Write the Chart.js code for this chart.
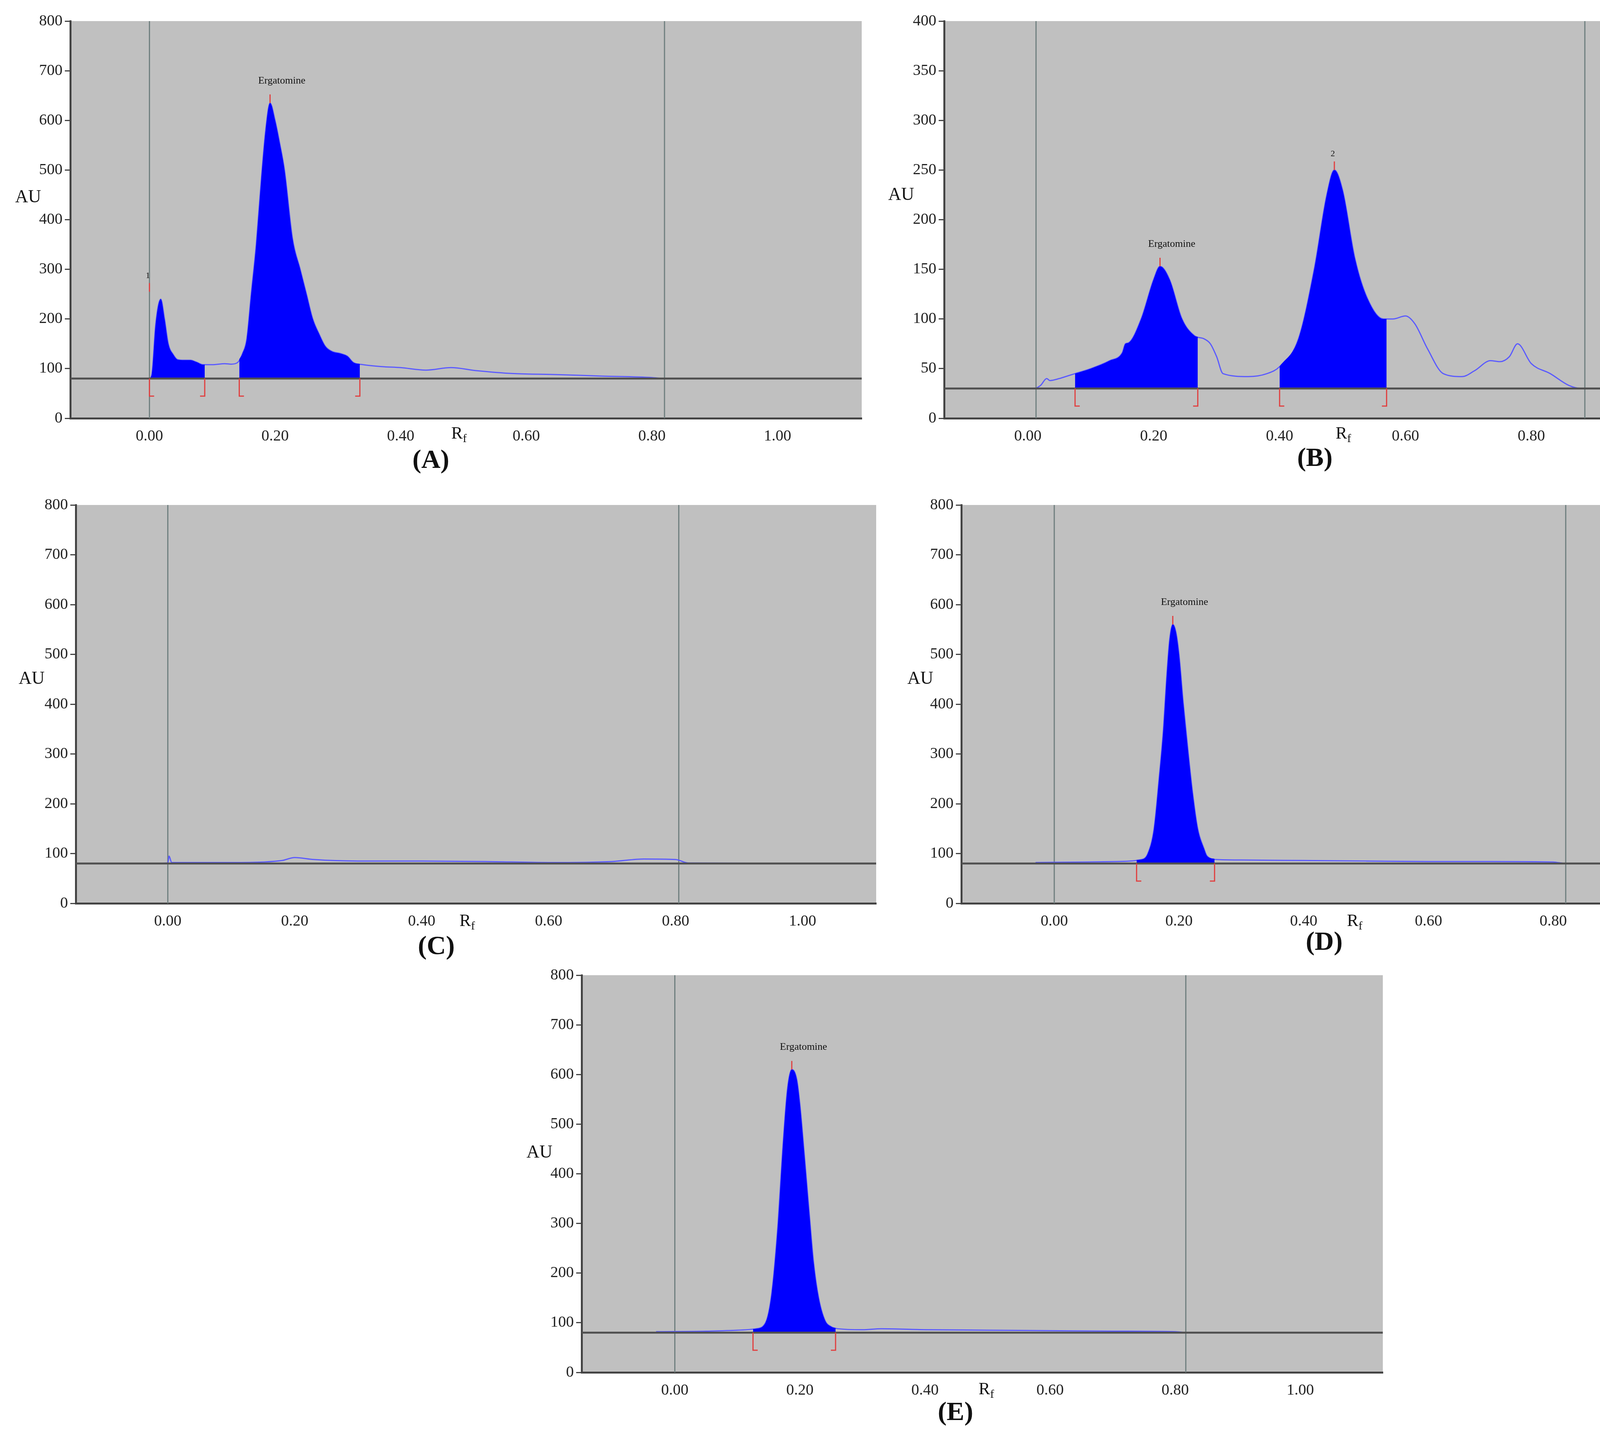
<!DOCTYPE html>
<html><head><meta charset="utf-8">
<script src="https://cdn.jsdelivr.net/npm/chart.js@4.4.0/dist/chart.umd.min.js"></script>
<style>
body{margin:0;background:#fff;width:4550px;height:3682px;position:relative;overflow:hidden;font-family:"Liberation Serif",serif;}
.box{position:absolute;}
.lbl{position:absolute;font-family:"Liberation Serif",serif;color:#111;white-space:nowrap;transform:translate(-50%,-50%);}
.au{font-size:46px;}
.rf{font-size:44px;}
.rf sub{font-size:30px;}
.ttl{font-size:68px;font-weight:bold;}
</style></head><body>
<script>
// ---- Data (Rf, AU) ----
const rfA = [-0.03,0.0,0.004,0.01,0.018,0.024,0.03,0.038,0.045,0.055,0.065,0.075,0.085,0.1,0.12,0.13,0.14,0.148,0.155,0.162,0.17,0.178,0.185,0.192,0.2,0.208,0.215,0.228,0.24,0.25,0.26,0.27,0.28,0.29,0.305,0.315,0.325,0.34,0.37,0.4,0.44,0.48,0.52,0.58,0.65,0.72,0.8,0.82,1.02];
const auA = [80,80,90,190,240,200,150,128,118,117,117,113,108,108,110,109,112,130,160,250,350,480,580,635,600,550,500,360,300,250,200,170,145,135,130,125,112,108,104,102,97,102,96,90,88,85,82,80,80];
const peaksA = [[0.0,0.088],[0.143,0.335]];
const labelsA = [{x:0.192,y:635,t:"Ergatomine"},{x:0.0,y:255,t:"1"}];
const baseA = 80;

const rfB = [-0.03,0.01,0.02,0.03,0.035,0.05,0.06,0.075,0.1,0.13,0.15,0.155,0.16,0.18,0.2,0.21,0.225,0.245,0.265,0.28,0.29,0.3,0.31,0.35,0.38,0.4,0.43,0.455,0.475,0.487,0.5,0.52,0.54,0.565,0.58,0.6,0.615,0.635,0.66,0.69,0.71,0.735,0.75,0.765,0.778,0.8,0.83,0.86,0.88,1.02];
const auB = [30,30,33,40,38,40,42,45,50,58,66,75,76,100,140,153,140,100,83,80,75,62,45,42,45,52,80,150,225,250,230,160,120,100,100,103,95,70,45,42,48,58,57,62,75,55,45,33,30,30];
const peaksB = [[0.075,0.27],[0.4,0.57]];
const labelsB = [{x:0.21,y:153,t:"Ergatomine"},{x:0.487,y:250,t:"2"}];
const baseB = 30;

const rfC = [-0.03,0.0,0.002,0.006,0.02,0.05,0.1,0.15,0.18,0.2,0.23,0.3,0.4,0.5,0.6,0.7,0.75,0.8,0.82,1.02];
const auC = [80,81,95,82,82,82,82,83,86,92,88,85,85,84,82,84,89,88,81,80];
const baseC = 80;

const rfD = [-0.03,0.05,0.1,0.14,0.15,0.16,0.168,0.175,0.18,0.185,0.19,0.195,0.2,0.207,0.215,0.222,0.23,0.24,0.245,0.26,0.3,0.4,0.5,0.6,0.7,0.8,0.82,1.02];
const auD = [82,83,84,88,100,150,250,350,450,530,560,545,500,400,300,220,150,110,95,88,87,86,85,84,84,83,80,80];
const peaksD = [[0.132,0.257]];
const labelsD = [{x:0.19,y:560,t:"Ergatomine"}];
const baseD = 80;

const rfE = [-0.03,0.05,0.1,0.13,0.145,0.155,0.165,0.172,0.18,0.187,0.195,0.2,0.207,0.215,0.222,0.23,0.24,0.25,0.26,0.3,0.33,0.4,0.5,0.6,0.7,0.8,0.82,1.02];
const auE = [82,83,85,88,100,160,300,440,570,610,590,540,440,320,220,150,105,92,88,86,88,86,85,84,83,82,80,80];
const peaksE = [[0.125,0.257]];
const labelsE = [{x:0.187,y:610,t:"Ergatomine"}];
const baseE = 80;

const xTicks = [0,0.2,0.4,0.6,0.8,1.0];

const panels = [
 {rf:rfA,au:auA,peaks:peaksA,labels:labelsA,base:baseA,ymax:800,ystep:100,xmin:-0.126,xmax:1.134,vl:[0,0.82],box:[50,24,2166,1137],
  au_:[72,502],rfl:[1175,1111],ttl:[1103,1175,"(A)"]},
 {rf:rfB,au:auB,peaks:peaksB,labels:labelsB,base:baseB,ymax:400,ystep:50,xmin:-0.133,xmax:1.135,vl:[0.013,0.885],box:[2287,24,2183,1137],
  au_:[2307,496],rfl:[3439,1111],ttl:[3366,1170,"(B)"]},
 {rf:rfC,au:auC,peaks:[],labels:[],base:baseC,ymax:800,ystep:100,xmin:-0.145,xmax:1.116,vl:[0,0.805],box:[64,1263,2189,1140],
  au_:[81,1735],rfl:[1196,2359],ttl:[1117,2420,"(C)"]},
 {rf:rfD,au:auD,peaks:peaksD,labels:labelsD,base:baseD,ymax:800,ystep:100,xmin:-0.149,xmax:1.138,vl:[0,0.82],box:[2331,1263,2195,1140],
  au_:[2356,1735],rfl:[3468,2359],ttl:[3390,2409,"(D)"],smallOne:true},
 {rf:rfE,au:auE,peaks:peaksE,labels:labelsE,base:baseE,ymax:800,ystep:100,xmin:-0.149,xmax:1.132,vl:[0,0.817],box:[1359,2467,2191,1137],
  au_:[1381,2948],rfl:[2525,3558],ttl:[2446,3613,"(E)"]}
];

function interp(rf,au,x){
  for(let i=0;i<rf.length-1;i++){ if(x>=rf[i]&&x<=rf[i+1]){const t=(x-rf[i])/(rf[i+1]-rf[i]);return au[i]+t*(au[i+1]-au[i]);} }
  return au[au.length-1];
}

const overlay = {
  id:'overlay',
  beforeDatasetsDraw(chart){
    const p=chart.options.plugins.overlay, xs=chart.scales.x, a=chart.chartArea, ctx=chart.ctx;
    ctx.save();
    ctx.strokeStyle='#6f7f7f'; ctx.lineWidth=3;
    p.vl.forEach(v=>{const px=xs.getPixelForValue(v);ctx.beginPath();ctx.moveTo(px,a.top);ctx.lineTo(px,a.bottom);ctx.stroke();});
    ctx.restore();
  },
  afterDatasetsDraw(chart){
    const p=chart.options.plugins.overlay, xs=chart.scales.x, ys=chart.scales.y, a=chart.chartArea, ctx=chart.ctx;
    ctx.save();
    const by=ys.getPixelForValue(p.base);
    ctx.strokeStyle='#505050'; ctx.lineWidth=5;
    ctx.beginPath();ctx.moveTo(a.left,by);ctx.lineTo(a.right,by);ctx.stroke();
    ctx.strokeStyle='#e04040'; ctx.lineWidth=3;
    p.peaks.forEach(pk=>{
      pk.forEach((v,i)=>{const px=xs.getPixelForValue(v);
        ctx.beginPath();ctx.moveTo(px,by);ctx.lineTo(px,by+45);ctx.lineTo(px+(i===0?12:-12),by+45);ctx.stroke();});
    });
    p.labels.forEach(l=>{
      const px=xs.getPixelForValue(l.x), py=ys.getPixelForValue(l.y);
      ctx.strokeStyle='#e04040';ctx.beginPath();ctx.moveTo(px,py);ctx.lineTo(px,py-22);ctx.stroke();
      ctx.fillStyle='#111';ctx.font=(l.t.length>2?'26px':'22px')+' "Liberation Serif", serif';
      ctx.textAlign='center';ctx.textBaseline='bottom';
      ctx.fillText(l.t, l.t.length>2?px+30:px-4, py-(l.t.length>2?44:30));
    });
    ctx.restore();
  }
};

panels.forEach((P,idx)=>{
  const d=document.createElement('div');d.className='box';
  d.style.left=P.box[0]+'px';d.style.top=P.box[1]+'px';d.style.width=P.box[2]+'px';d.style.height=P.box[3]+'px';
  const c=document.createElement('canvas');d.appendChild(c);document.body.appendChild(d);
  [['au',P.au_,'AU'],['rf',P.rfl,'R<sub>f</sub>'],['ttl',P.ttl,P.ttl[2]]].forEach(([cls,pos,txt])=>{
    const s=document.createElement('div');s.className='lbl '+cls;s.style.left=pos[0]+'px';s.style.top=pos[1]+'px';s.innerHTML=txt;document.body.appendChild(s);
  });
  const line=P.rf.map((x,i)=>({x:x,y:P.au[i]}));
  const ds=[];
  P.peaks.forEach(pk=>{
    const pts=[{x:pk[0],y:interp(P.rf,P.au,pk[0])}];
    P.rf.forEach((x,i)=>{if(x>pk[0]&&x<pk[1])pts.push({x:x,y:P.au[i]});});
    pts.push({x:pk[1],y:interp(P.rf,P.au,pk[1])});
    ds.push({data:pts,borderWidth:0,pointRadius:0,backgroundColor:'#0000ff',fill:{value:P.base},cubicInterpolationMode:'monotone'});
  });
  ds.push({data:line,borderColor:'#5a5aff',borderWidth:3,pointRadius:0,fill:false,cubicInterpolationMode:'monotone'});
  new Chart(c,{
    type:'line',
    data:{datasets:ds},
    plugins:[overlay,{id:'bg',beforeDraw(ch){const a=ch.chartArea;ch.ctx.save();ch.ctx.fillStyle='#c0c0c0';ch.ctx.fillRect(a.left,a.top,a.right-a.left,a.bottom-a.top);ch.ctx.restore();}}],
    options:{
      responsive:true,maintainAspectRatio:false,animation:false,devicePixelRatio:1,
      layout:{padding:{top:20,right:10,left:0,bottom:0}},
      plugins:{legend:{display:false},tooltip:{enabled:false},
        overlay:{vl:P.vl,base:P.base,peaks:P.peaks,labels:P.labels}},
      scales:{
        x:{type:'linear',min:P.xmin,max:P.xmax,
          afterBuildTicks(s){s.ticks=xTicks.map(v=>({value:v}));},
          afterFit(s){s.height=90;},
          grid:{display:false,drawTicks:false},border:{display:true,color:'#444',width:5},
          ticks:{padding:22,color:'#222',
            font:(ctx)=>({family:'Liberation Serif',size:(P.smallOne&&ctx.tick&&ctx.tick.value===1)?18:40}),
            callback:(v)=>Number(v).toFixed(2),maxRotation:0,autoSkip:false}},
        y:{min:0,max:P.ymax,
          afterFit(s){s.width=130;},
          grid:{display:true,drawOnChartArea:false,drawTicks:true,tickLength:14,color:'#444',lineWidth:3},
          border:{display:true,color:'#444',width:5},
          ticks:{stepSize:P.ystep,padding:6,color:'#222',font:{family:'Liberation Serif',size:40}}}
      }
    }
  });
});
</script>
</body></html>
